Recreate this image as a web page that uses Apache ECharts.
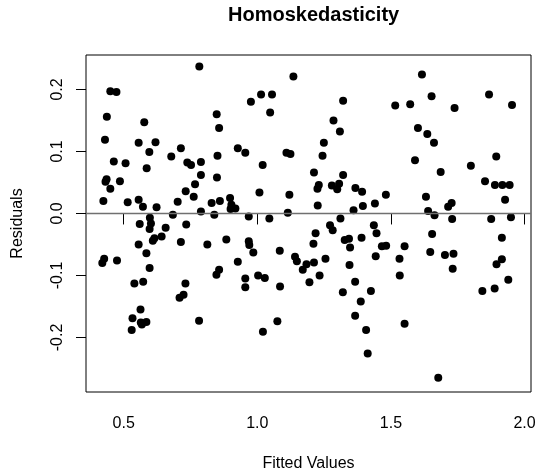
<!DOCTYPE html>
<html>
<head>
<meta charset="utf-8">
<script src="https://cdn.jsdelivr.net/npm/echarts@6/dist/echarts.min.js"></script>
<style>
  html, body { margin: 0; padding: 0; background: #fff; }
  #chart { width: 535px; height: 472px; }
</style>
</head>
<body>
<div id="chart"></div>
<script>
// Fitted values and residuals of the model (paired by index)
const fitted = [
  0.783,0.450,0.473,0.437,0.577,0.848,0.857,0.430,0.556,0.619,0.596,0.678,0.714,0.927,0.955,0.463,
  0.507,0.586,0.738,0.752,0.789,0.851,0.789,0.849,0.436,0.432,0.450,0.486,0.767,0.732,0.762,0.424,
  0.515,0.556,0.572,0.623,0.702,0.829,0.860,0.898,0.903,0.918,0.900,0.789,0.839,0.684,0.598,
  0.560,0.602,0.597,0.657,0.734,0.615,0.642,0.609,0.556,0.714,0.813,0.884,0.585,0.427,0.420,0.475,
  0.597,0.927,0.857,0.847,0.540,0.573,0.731,0.724,0.709,0.563,0.533,0.564,0.585,0.568,0.530,0.782,
  1.135,0.976,1.014,1.055,1.048,1.321,1.516,1.285,1.309,1.249,1.244,1.020,1.109,1.124,1.212,1.321,
  1.230,1.225,1.279,1.299,1.306,1.367,1.392,1.008,1.120,1.481,1.440,1.395,1.226,1.360,1.114,0.968,
  1.045,1.311,
  1.272,1.282,1.436,1.446,1.218,1.210,0.968,0.970,0.985,1.084,0.955,0.955,1.003,1.028,1.085,1.021,
  1.075,1.141,1.148,1.170,1.184,1.212,1.195,1.233,1.255,1.327,1.343,1.347,1.390,1.443,1.466,1.482,
  1.345,1.366,1.320,1.425,1.387,1.366,1.407,1.413,
  1.616,1.572,1.652,1.738,1.867,1.953,1.601,1.636,1.661,1.590,1.686,1.799,1.894,1.852,1.889,1.917,
  1.944,1.927,1.631,1.714,1.727,1.639,1.663,1.729,1.875,1.949,
  1.551,1.532,1.533,1.551,1.654,1.647,1.702,1.734,1.731,1.677,1.915,1.915,1.895,1.939,1.888,1.842
];
const residuals = [
  0.237,0.197,0.196,0.156,0.147,0.160,0.138,0.119,0.114,0.115,0.099,0.092,0.105,0.105,0.098,0.084,
  0.081,0.073,0.082,0.078,0.083,0.093,0.062,0.058,0.055,0.051,0.040,0.052,0.047,0.036,0.027,0.020,
  0.018,0.022,0.011,0.010,0.019,0.017,0.020,0.025,0.014,0.008,0.007,0.003,-0.002,-0.002,-0.007,
  -0.017,-0.016,-0.025,-0.023,-0.018,-0.040,-0.037,-0.044,-0.050,-0.046,-0.050,-0.042,-0.064,-0.073,-0.080,-0.076,
  -0.088,-0.078,-0.091,-0.099,-0.113,-0.110,-0.113,-0.131,-0.136,-0.155,-0.169,-0.176,-0.175,-0.179,-0.188,-0.173,
  0.221,0.180,0.192,0.192,0.163,0.182,0.174,0.150,0.132,0.114,0.093,0.078,0.098,0.096,0.066,0.062,
  0.046,0.040,0.045,0.039,0.048,0.041,0.035,0.034,0.030,0.030,0.016,0.012,0.013,0.005,0.001,-0.005,
  -0.008,-0.008,
  -0.019,-0.027,-0.019,-0.032,-0.032,-0.049,-0.045,-0.051,-0.063,-0.060,-0.105,-0.119,-0.100,-0.104,-0.118,-0.191,
  -0.174,-0.070,-0.077,-0.091,-0.082,-0.079,-0.111,-0.100,-0.073,-0.043,-0.041,-0.055,-0.039,-0.069,-0.053,-0.052,
  -0.083,-0.110,-0.127,-0.125,-0.142,-0.165,-0.188,-0.226,
  0.224,0.176,0.189,0.170,0.192,0.175,0.138,0.128,0.114,0.086,0.067,0.077,0.092,0.052,0.046,0.046,
  0.046,0.022,0.027,0.011,0.017,0.004,-0.003,-0.009,-0.009,-0.006,
  -0.053,-0.073,-0.100,-0.178,-0.033,-0.062,-0.067,-0.065,-0.089,-0.265,-0.039,-0.074,-0.082,-0.107,-0.121,-0.125
];

// Axis tick labels
const xTicks = [0.5, 1.0, 1.5, 2.0];
const yTicks = [-0.2, -0.1, 0.0, 0.1, 0.2];

const points = fitted.map((f, i) => [f, residuals[i]]);

const FONT = '"Liberation Sans", Arial, Helvetica, sans-serif';

const chart = echarts.init(document.getElementById('chart'), null, { renderer: 'canvas' });

chart.setOption({
  animation: false,
  backgroundColor: '#ffffff',
  title: {
    text: 'Homoskedasticity',
    left: 308.6,
    top: 0,
    textAlign: 'center',
    textStyle: { fontFamily: FONT, fontSize: 20, fontWeight: 'bold', color: '#000' }
  },
  grid: {
    left: 86, right: 4, top: 55, bottom: 80,
    outerBoundsMode: 'none',
    containLabel: false,
    show: true, borderColor: '#000', borderWidth: 1, backgroundColor: 'transparent'
  },
  xAxis: {
    type: 'value',
    min: 0.359, max: 2.024,
    name: 'Fitted Values',
    nameLocation: 'middle',
    nameGap: 64,
    nameTextStyle: { fontFamily: FONT, fontSize: 16, color: '#000' },
    splitLine: { show: false },
    axisLine: { show: false },
    axisTick: { show: true, customValues: xTicks, length: 11, inside: false,
                lineStyle: { color: '#000', width: 1 } },
    axisLabel: { customValues: xTicks, margin: 24, fontFamily: FONT, fontSize: 16, color: '#000',
                 formatter: v => v.toFixed(1) }
  },
  yAxis: {
    type: 'value',
    min: -0.288, max: 0.2556,
    name: 'Residuals',
    nameLocation: 'middle',
    nameGap: 60,
    nameRotate: 90,
    nameTextStyle: { fontFamily: FONT, fontSize: 16, color: '#000' },
    splitLine: { show: false },
    axisLine: { show: false },
    axisTick: { show: true, customValues: yTicks, length: 10, inside: false,
                lineStyle: { color: '#000', width: 1 } },
    axisLabel: { customValues: yTicks, rotate: 90, margin: 20, fontFamily: FONT, fontSize: 16, color: '#000',
                 formatter: v => v.toFixed(1) }
  },
  series: [{
    type: 'scatter',
    data: points,
    symbol: 'circle',
    symbolSize: 8,
    itemStyle: { color: '#000', opacity: 1 },
    markLine: {
      silent: true,
      symbol: 'none',
      label: { show: false },
      lineStyle: { color: '#707070', width: 1.3, type: 'solid' },
      data: [{ yAxis: 0 }]
    },
    z: 3
  }]
});
</script>
</body>
</html>
